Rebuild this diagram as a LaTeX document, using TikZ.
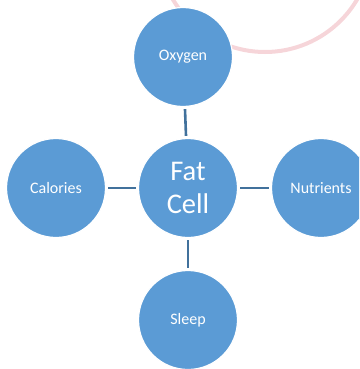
\documentclass[tikz,border=0pt]{standalone}
\usepackage{fontspec}
\setmainfont{Carlito}
\definecolor{bubble}{HTML}{5B9BD5}
\definecolor{link}{HTML}{41719C}
\definecolor{wmark}{HTML}{F6D5D9}
\begin{document}
\begin{tikzpicture}[x=1pt,y=-1pt,
  bub/.style={circle,fill=bubble,draw=white,line width=1.2pt,minimum size=99pt,inner sep=0pt,text=white,font=\fontsize{16}{19}\selectfont,align=center},
  big/.style={bub,font=\fontsize{28.5}{33}\selectfont},
  conn/.style={draw=link,line width=2.6pt,shorten <=2pt,shorten >=2pt}]
\useasboundingbox (0,0) rectangle (359,369);
\clip (0,0) rectangle (359,369);
\draw[wmark,line width=4pt] (265,-55) circle (107);
\node[big] (fat) at (188,188) {Fat\\Cell};
\node[bub] (oxy) at (183,57) {Oxygen};
\node[bub] (cal) at (56,188) {Calories};
\node[bub] (nut) at (321,188) {Nutrients};
\node[bub] (slp) at (188,320) {Sleep};
\draw[conn] (oxy) -- (fat);
\draw[conn] (cal) -- (fat);
\draw[conn] (fat) -- (nut);
\draw[conn] (fat) -- (slp);
\end{tikzpicture}
\end{document}
